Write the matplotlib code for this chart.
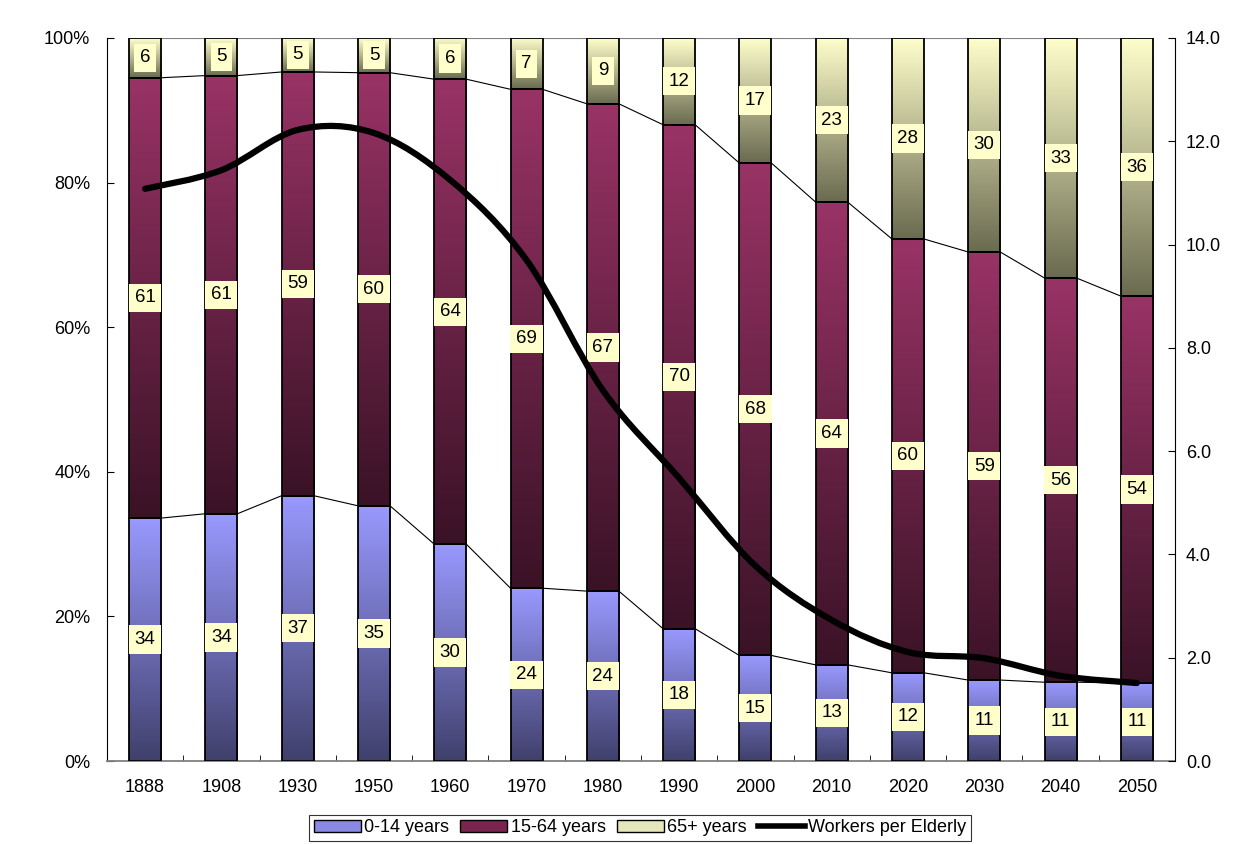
import numpy as np
import matplotlib
matplotlib.use("Agg")
import matplotlib.pyplot as plt
from matplotlib.colors import LinearSegmentedColormap
from matplotlib.patches import Patch, PathPatch
from matplotlib.lines import Line2D
from matplotlib.path import Path

plt.rcParams['font.family'] = ['Liberation Sans', 'DejaVu Sans']

years = ["1888", "1908", "1930", "1950", "1960", "1970", "1980",
         "1990", "2000", "2010", "2020", "2030", "2040", "2050"]
age_0_14 = [33.6, 34.2, 36.7, 35.3, 30.0, 23.9, 23.5, 18.3, 14.6, 13.3, 12.2, 11.2, 10.9, 10.8]
age_15_64 = [60.9, 60.6, 58.6, 59.9, 64.3, 69.0, 67.4, 69.7, 68.1, 64.0, 60.0, 59.2, 55.9, 53.5]
age_65 = [5.5, 5.2, 4.7, 4.8, 5.7, 7.1, 9.1, 12.0, 17.3, 22.7, 27.8, 29.6, 33.2, 35.7]
workers_per_elderly = [11.08, 11.44, 12.22, 12.16, 11.25, 9.7, 7.18, 5.48, 3.78, 2.73, 2.11, 1.99, 1.65, 1.51]

series = [
    ("0-14 years", age_0_14, "#40406c", "#9999ff", "#8a8ae6"),
    ("15-64 years", age_15_64, "#3a1226", "#993366", "#7a2450"),
    ("65+ years", age_65, "#6a6a50", "#ffffcc", "#e6e6bb"),
]

fig = plt.figure(figsize=(12.38, 8.44), dpi=100)
ax = fig.add_axes([0.0864, 0.0983, 0.8627, 0.8567])

x = np.arange(len(years))
width = 0.42
bottom = np.zeros(len(years))
grad = np.linspace(0, 1, 256).reshape(-1, 1)
tops = []
for name, vals, c_lo, c_hi, _ in series:
    vals = np.array(vals, dtype=float)
    bars = ax.bar(x, vals, width, bottom=bottom, facecolor="none",
                  edgecolor="black", linewidth=1.3, zorder=3)
    cmap = LinearSegmentedColormap.from_list(name, [c_lo, c_hi])
    for b, v in zip(bars, vals):
        x0, y0 = b.get_x(), b.get_y()
        ax.imshow(grad, cmap=cmap, origin="lower", aspect="auto",
                  extent=[x0, x0 + b.get_width(), y0, y0 + b.get_height()],
                  zorder=2, interpolation="bilinear")
        ax.text(x0 + b.get_width() / 2, y0 + b.get_height() / 2, f"{v:.0f}",
                ha="center", va="center", fontsize=13.5, zorder=4,
                bbox=dict(boxstyle="square,pad=0.3", facecolor="#ffffcc",
                          edgecolor="none"))
    bottom = bottom + vals
    tops.append(bottom.copy())

# series lines between bars
for t in tops:
    for i in range(len(years) - 1):
        ax.plot([x[i] + width / 2, x[i + 1] - width / 2], [t[i], t[i + 1]],
                color="black" if t[i] < 99 else "#808080", lw=0.8, zorder=2.5)

ax.set_xlim(-0.5, len(years) - 0.5)
ax.set_ylim(0, 100)
ax.set_yticks(np.arange(0, 101, 20))
ax.set_yticklabels([f"{v}%" for v in range(0, 101, 20)])
ax.set_xticks(x)
ax.set_xticklabels(years)
ax.set_xticks(np.arange(-0.5, len(years), 1), minor=True)
ax.tick_params(axis="x", which="major", length=0, pad=13, labelsize=13)
ax.tick_params(axis="x", which="minor", length=4, direction="in", color="black")
ax.tick_params(axis="y", length=5, direction="in", pad=12, labelsize=13)
for s in ["top", "right"]:
    ax.spines[s].set_visible(False)
ax.spines["bottom"].set_color("#808080")
ax.spines["bottom"].set_linewidth(1.3)

ax2 = ax.twinx()
ax2.set_ylim(0, 14)
ax2.set_yticks(np.arange(0, 14.1, 2))
ax2.set_yticklabels([f"{v:.1f}" for v in np.arange(0, 14.1, 2)])
ax2.tick_params(axis="y", length=5, direction="in", pad=8, labelsize=13)
for s in ["top", "left", "bottom"]:
    ax2.spines[s].set_visible(False)

# smoothed line (Catmull-Rom style Bezier, like Excel's smoothing)
pts = np.column_stack([x, workers_per_elderly]).astype(float)
ext = np.vstack([pts[0], pts, pts[-1]])
verts = [pts[0]]
codes = [Path.MOVETO]
for i in range(1, len(ext) - 2):
    p0, p1, p2, p3 = ext[i - 1], ext[i], ext[i + 1], ext[i + 2]
    verts += [p1 + (p2 - p0) / 6, p2 - (p3 - p1) / 6, p2]
    codes += [Path.CURVE4] * 3
ax2.add_patch(PathPatch(Path(verts, codes), facecolor="none",
                        edgecolor="black", lw=4.5, capstyle="round", zorder=5))

handles = [Patch(facecolor=c, edgecolor="black", label=n) for n, _, _, _, c in series]
handles.append(Line2D([], [], color="black", lw=4, label="Workers per Elderly"))
leg = fig.legend(handles=handles, loc="center", bbox_to_anchor=(0.517, 0.019),
                 ncol=4, fontsize=13, frameon=True, fancybox=False,
                 handlelength=2.6, handleheight=0.6, handletextpad=0.2,
                 columnspacing=0.6, borderpad=0.25, borderaxespad=0)
leg.get_frame().set_edgecolor("black")
leg.get_frame().set_linewidth(0.8)

fig.savefig("out.png", dpi=100)
